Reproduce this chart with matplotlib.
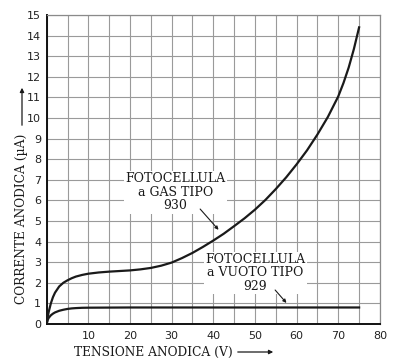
import matplotlib
matplotlib.use("Agg")
import matplotlib.pyplot as plt
import numpy as np

# Data
gas_v = [0, 0.25, 0.5, 1, 1.5, 2, 3, 4, 5, 6, 7, 8.5, 10, 12.5, 15, 17.5, 20, 22.5, 25, 27.5, 30,
         32.5, 35, 37.5, 40, 42.5, 45, 47.5, 50, 52.5, 55, 57.5, 60, 62.5, 65, 67.5, 70, 71.25, 72.5, 73.75, 75]
gas_i = [0, 0.35, 0.6, 1.0, 1.3, 1.52, 1.82, 2.0, 2.12, 2.22, 2.3, 2.38, 2.44, 2.5, 2.54, 2.57, 2.6, 2.65, 2.72, 2.83, 2.98,
         3.2, 3.45, 3.74, 4.05, 4.38, 4.75, 5.13, 5.55, 6.02, 6.55, 7.12, 7.75, 8.43, 9.2, 10.05, 11.05, 11.7, 12.45, 13.35, 14.4]
vac_v = [0, 0.25, 0.5, 1, 1.5, 2, 3, 4, 5, 6, 7, 8.5, 10, 20, 30, 40, 50, 60, 70, 75]
vac_i = [0, 0.2, 0.3, 0.42, 0.5, 0.56, 0.64, 0.69, 0.73, 0.755, 0.77, 0.785, 0.79, 0.8, 0.8, 0.8, 0.8, 0.8, 0.8, 0.8]
x_ticks = [10, 20, 30, 40, 50, 60, 70, 80]
y_ticks = list(range(0, 16))

fig = plt.figure(figsize=(3.97, 3.64), dpi=100)
ax = fig.add_axes([0.1176, 0.11, 0.957 - 0.1176, 0.9588 - 0.11])
ax.set_xlim(0, 80)
ax.set_ylim(0, 15)

# grid
for xv in np.arange(0, 81, 5):
    ax.axvline(xv, color="#9a9a9a", lw=0.8, zorder=1)
for yv in y_ticks:
    ax.axhline(yv, color="#9a9a9a", lw=0.8, zorder=1)

ax.plot(gas_v, gas_i, color="#1a1a1a", lw=1.6, zorder=3, solid_joinstyle="round")
ax.plot(vac_v, vac_i, color="#1a1a1a", lw=1.6, zorder=3, solid_joinstyle="round")

ax.set_xticks(x_ticks)
ax.set_yticks(y_ticks)
ax.tick_params(length=0, labelsize=8, colors="#222222", pad=4)
ax.tick_params(axis="x", pad=5)
for s in ["top", "right"]:
    ax.spines[s].set_color("#8a8a8a")
    ax.spines[s].set_linewidth(0.9)
for s in ["left", "bottom"]:
    ax.spines[s].set_color("#111111")
    ax.spines[s].set_linewidth(1.4)

serif = "DejaVu Serif"
box = dict(facecolor="white", edgecolor="none", pad=1.0)
ax.text(30.9, 6.4, "FOTOCELLULA\na GAS TIPO\n930", ha="center", va="center",
        fontsize=9, family=serif, color="#1a1a1a", linespacing=1.05, bbox=box, zorder=4)
ax.text(50.1, 2.48, "FOTOCELLULA\na VUOTO TIPO\n929", ha="center", va="center",
        fontsize=9, family=serif, color="#1a1a1a", linespacing=1.05, bbox=box, zorder=4)
ax.annotate("", xy=(41.7, 4.47), xytext=(36.4, 5.68),
            arrowprops=dict(arrowstyle="-|>", color="#1a1a1a", lw=0.8, mutation_scale=5), zorder=5)
ax.annotate("", xy=(58.0, 0.92), xytext=(54.4, 1.75),
            arrowprops=dict(arrowstyle="-|>", color="#1a1a1a", lw=0.8, mutation_scale=5), zorder=5)

# axis labels with arrows
fig.text(22 / 397, 1 - 219 / 364, "CORRENTE ANODICA (µA)", rotation=90, ha="center", va="center",
         fontsize=8.8, family=serif, color="#1a1a1a")
fig.add_artist(matplotlib.patches.FancyArrowPatch((22 / 397, 1 - 128 / 364), (22 / 397, 1 - 85 / 364),
               transform=fig.transFigure, arrowstyle="-|>", mutation_scale=6, lw=0.9, color="#1a1a1a"))
fig.text(153 / 397, 1 - 352 / 364, "TENSIONE ANODICA (V)", ha="center", va="center",
         fontsize=8.8, family=serif, color="#1a1a1a")
fig.add_artist(matplotlib.patches.FancyArrowPatch((235 / 397, 1 - 352 / 364), (276 / 397, 1 - 352 / 364),
               transform=fig.transFigure, arrowstyle="-|>", mutation_scale=6, lw=0.9, color="#1a1a1a"))

fig.savefig("out.png", dpi=100, facecolor="white")
